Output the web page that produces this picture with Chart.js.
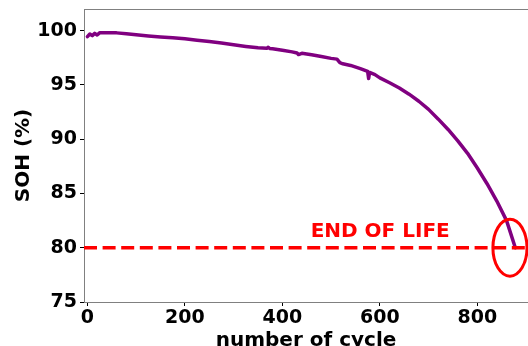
<!DOCTYPE html>
<html>
<head>
<meta charset="utf-8">
<script src="https://cdn.jsdelivr.net/npm/chart.js@4/dist/chart.umd.min.js"></script>
<style>
  html, body { margin: 0; padding: 0; background: #fff; overflow: hidden; }
  canvas { display: block; }
</style>
</head>
<body>
<canvas id="c" width="528" height="380"></canvas>
<script>
// Battery state of health over charge/discharge cycles
const cycles = [0, 5, 10, 15, 20, 25, 40, 60, 80, 100, 125, 150, 175, 200, 225, 250, 275, 300,
  325, 350, 368, 371, 374, 380, 400, 420, 430, 433, 440, 460, 480, 500, 512, 518, 524, 540,
  560, 575, 577, 579, 590, 600, 620, 640, 660, 680, 700, 720, 740, 760, 780, 800, 820, 840,
  860, 878];
const soh = [99.45, 99.7, 99.55, 99.75, 99.6, 99.8, 99.82, 99.8, 99.72, 99.62, 99.52, 99.43,
  99.35, 99.25, 99.13, 99.0, 98.86, 98.7, 98.55, 98.42, 98.38, 98.48, 98.36, 98.33, 98.2,
  98.05, 97.95, 97.8, 97.92, 97.78, 97.62, 97.45, 97.38, 97.05, 96.95, 96.8, 96.5, 96.25,
  95.6, 96.15, 95.95, 95.65, 95.2, 94.72, 94.15, 93.5, 92.75, 91.85, 90.9, 89.85, 88.7,
  87.35, 85.9, 84.3, 82.5, 80.0];

const eolLevel = 80;
const eolLabel = 'END OF LIFE';
const eolLabelAt = [458, 81];
const eolMarker = { cx: 867, cy: 80, rx: 35, ry: 2.62 };

const xTicks = [0, 200, 400, 600, 800];
const yTicks = [75, 80, 85, 90, 95, 100];
const xRange = [-7, 904];
const yRange = [75, 102];

const FONT = "'DejaVu Sans', 'Liberation Sans', sans-serif";
const SPINE = '#808080';

const sohPoints = cycles.map((c, i) => ({ x: c, y: soh[i] }));
const eolLine = [{ x: xRange[0], y: eolLevel }, { x: xRange[1], y: eolLevel }];

const annotations = {
  id: 'annotations',
  afterDatasetsDraw(chart) {
    const { ctx, chartArea: a, scales: { x, y } } = chart;
    ctx.save();
    // top spine
    ctx.strokeStyle = SPINE;
    ctx.lineWidth = 1;
    ctx.beginPath();
    ctx.moveTo(a.left, a.top + 0.5);
    ctx.lineTo(a.right, a.top + 0.5);
    ctx.stroke();

    ctx.beginPath();
    ctx.rect(a.left, a.top, a.right - a.left, a.bottom - a.top);
    ctx.clip();

    // end-of-life marker ring
    const cx = x.getPixelForValue(eolMarker.cx);
    const cy = y.getPixelForValue(eolMarker.cy);
    const rx = Math.abs(x.getPixelForValue(eolMarker.cx + eolMarker.rx) - cx);
    const ry = Math.abs(y.getPixelForValue(eolMarker.cy + eolMarker.ry) - cy);
    ctx.strokeStyle = '#ff0000';
    ctx.lineWidth = 3;
    ctx.beginPath();
    ctx.ellipse(cx, cy, rx, ry, 0, 0, Math.PI * 2);
    ctx.stroke();

    // label
    ctx.fillStyle = '#ff0000';
    ctx.font = 'bold 20px ' + FONT;
    ctx.textAlign = 'left';
    ctx.textBaseline = 'alphabetic';
    ctx.fillText(eolLabel, x.getPixelForValue(eolLabelAt[0]), y.getPixelForValue(eolLabelAt[1]));
    ctx.restore();
  }
};

new Chart(document.getElementById('c'), {
  type: 'line',
  data: {
    datasets: [
      {
        data: sohPoints,
        borderColor: '#800080',
        borderWidth: 3.5,
        borderJoinStyle: 'round',
        borderCapStyle: 'round',
        pointRadius: 0,
        tension: 0,
        order: 2
      },
      {
        data: eolLine,
        borderColor: '#ff0000',
        borderWidth: 3.5,
        borderDash: [13, 5.6],
        pointRadius: 0,
        order: 1
      }
    ]
  },
  options: {
    responsive: false,
    devicePixelRatio: 1,
    animation: false,
    events: [],
    layout: { padding: { top: 9, left: 0, right: 0, bottom: 0 } },
    plugins: { legend: { display: false }, tooltip: { enabled: false } },
    scales: {
      x: {
        type: 'linear',
        min: xRange[0],
        max: xRange[1],
        afterBuildTicks: s => { s.ticks = xTicks.map(v => ({ value: v })); },
        afterFit: s => { s.height = 78; s.paddingLeft = 0; s.paddingRight = 0; },
        grid: { drawOnChartArea: false, tickLength: 4, tickColor: '#000', tickWidth: 1 },
        border: { color: SPINE, width: 1 },
        ticks: { color: '#000', font: { family: FONT, size: 19, weight: 'bold' }, padding: 1, maxRotation: 0 },
        title: {
          display: true, text: 'number of cycle', color: '#000',
          font: { family: FONT, size: 20, weight: 'bold' }, padding: { top: 27, bottom: 27 }
        }
      },
      y: {
        type: 'linear',
        min: yRange[0],
        max: yRange[1],
        afterBuildTicks: s => { s.ticks = yTicks.map(v => ({ value: v })); },
        afterFit: s => { s.width = 84; s.paddingTop = 0; s.paddingBottom = 0; },
        grid: { drawOnChartArea: false, tickLength: 4, tickColor: '#000', tickWidth: 1 },
        border: { color: SPINE, width: 1 },
        ticks: { color: '#000', font: { family: FONT, size: 19, weight: 'bold' }, padding: 3 },
        title: {
          display: true, text: 'SOH (%)', color: '#000',
          font: { family: FONT, size: 20, weight: 'bold' }, padding: { top: 12, bottom: 12 }
        }
      }
    }
  },
  plugins: [annotations]
});
</script>
</body>
</html>
